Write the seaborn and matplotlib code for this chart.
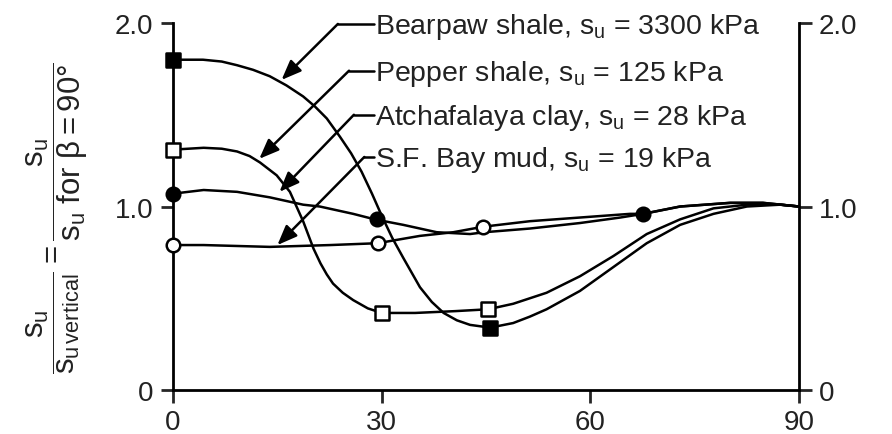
import numpy as np
import pandas as pd
import seaborn as sns
import matplotlib
matplotlib.use('Agg')
import matplotlib.pyplot as plt

# curves: beta (degrees) vs strength ratio
bearpaw_x = [0, 2.0, 4.3, 7.0, 9.2, 11.5, 13.9, 16.3, 18.7, 20.4, 22.1, 24.0, 25.6, 27.1, 28.6, 30.0,
             31.5, 33.1, 35.5, 37.2, 38.9, 40.8, 42.7, 45.6, 48.9, 51.3, 53.7, 58.5, 63.3, 68.1,
             72.9, 77.7, 82.5, 87.3, 90]
bearpaw_y = [1.80, 1.80, 1.80, 1.79, 1.77, 1.745, 1.71, 1.66, 1.60, 1.545, 1.48, 1.38, 1.29, 1.19, 1.07,
             0.95, 0.83, 0.72, 0.56, 0.48, 0.42, 0.38, 0.355, 0.34, 0.365, 0.40, 0.44, 0.54, 0.67, 0.80,
             0.90, 0.96, 1.00, 1.01, 1.00]

pepper_x = [0, 4.4, 7.0, 9.2, 11.0, 12.5, 14.9, 16.8, 18.7, 20.2, 21.2, 22.1, 23.0, 24.4, 25.9, 28.0,
            30.0, 34.8, 40.6, 45.3, 48.9, 51.3, 53.7, 58.5, 63.3, 68.1, 72.9, 77.7, 82.5, 87.3, 90]
pepper_y = [1.31, 1.32, 1.315, 1.30, 1.275, 1.24, 1.17, 1.08, 0.92, 0.77, 0.69, 0.63, 0.58, 0.53, 0.49,
            0.445, 0.42, 0.42, 0.43, 0.44, 0.47, 0.50, 0.53, 0.62, 0.73, 0.85, 0.93, 0.99, 1.01, 1.01, 1.00]

atcha_x = [0, 4.4, 9.2, 13.9, 18.7, 21.1, 25.9, 29.0, 33.1, 37.9, 42.7, 44.8, 51.3, 58.5, 64.3, 67.6,
           72.9, 80.1, 84.8, 90]
atcha_y = [1.07, 1.09, 1.08, 1.05, 1.01, 1.00, 0.96, 0.93, 0.90, 0.86, 0.85, 0.86, 0.88, 0.91, 0.94, 0.96,
           1.00, 1.02, 1.02, 1.00]

sfbay_x = [0, 4.4, 13.9, 22.6, 29.4, 35.5, 40.3, 44.6, 51.3, 58.5, 65.7, 67.6, 72.9, 80.1, 84.8, 90]
sfbay_y = [0.79, 0.79, 0.78, 0.79, 0.80, 0.84, 0.86, 0.89, 0.92, 0.94, 0.96, 0.96, 1.00, 1.02, 1.02, 1.00]

# measured points (markers)
bearpaw_pts_x = [0, 45.6]
bearpaw_pts_y = [1.80, 0.34]
pepper_pts_x = [0, 30.0, 45.3]
pepper_pts_y = [1.31, 0.42, 0.44]
atcha_pts_x = [0, 29.3, 67.6]
atcha_pts_y = [1.07, 0.93, 0.96]
sfbay_pts_x = [0, 29.4, 44.6]
sfbay_pts_y = [0.79, 0.80, 0.89]

labels = ['Bearpaw shale, $s_u$ = 3300 kPa',
          'Pepper shale, $s_u$ = 125 kPa',
          'Atchafalaya clay, $s_u$ = 28 kPa',
          'S.F. Bay mud, $s_u$ = 19 kPa']

sns.set_style('ticks')
plt.rcParams['font.family'] = ['Liberation Sans', 'DejaVu Sans']
plt.rcParams['mathtext.fontset'] = 'custom'
plt.rcParams['mathtext.rm'] = 'Liberation Sans'
plt.rcParams['mathtext.it'] = 'Liberation Sans'
plt.rcParams['mathtext.sf'] = 'Liberation Sans'
plt.rcParams['mathtext.bf'] = 'Liberation Sans:bold'
plt.rcParams['text.color'] = '#222222'

fig = plt.figure(figsize=(8.92, 4.35), dpi=100)
ax = fig.add_axes([0.194, 0.1011, 0.7018, 0.8437])

curves = [(bearpaw_x, bearpaw_y), (pepper_x, pepper_y), (atcha_x, atcha_y), (sfbay_x, sfbay_y)]
for cx, cy in curves:
    sns.lineplot(x=cx, y=cy, ax=ax, color='black', lw=1.8, sort=False, estimator=None,
                 clip_on=False, zorder=3)

pts = [(bearpaw_pts_x, bearpaw_pts_y, 's', 'black'),
       (pepper_pts_x, pepper_pts_y, 's', 'white'),
       (atcha_pts_x, atcha_pts_y, 'o', 'black'),
       (sfbay_pts_x, sfbay_pts_y, 'o', 'white')]
for px, py, mk, fc in pts:
    size = 115 if mk == 's' else 95
    sns.scatterplot(x=px, y=py, ax=ax, marker=mk, s=size, color=fc, edgecolor='black',
                    linewidth=1.8, clip_on=False, zorder=5, legend=False)

ax.set_xlim(0, 90)
ax.set_ylim(0, 2.0)
ax.set_xticks([0, 30, 60, 90])
ax.set_yticks([0, 1, 2])
ax.set_yticklabels(['0', '1.0', '2.0'])
ax.tick_params(axis='y', left=True, right=True, labelleft=True, labelright=True,
               direction='out', length=9, width=2, labelsize=20, pad=5, labelcolor='#222222')
ax.tick_params(axis='x', direction='out', length=9, width=2, labelsize=20, pad=5,
               labelcolor='#222222')
ax.spines['top'].set_visible(False)
for s in ['left', 'right', 'bottom']:
    ax.spines[s].set_visible(True)
    ax.spines[s].set_linewidth(2)
    ax.spines[s].set_color('black')

# leader lines with arrows
corners = [(23.7, 1.995), (25.3, 1.74), (26.0, 1.50), (27.5, 1.27)]
tips = [(15.6, 1.69), (12.4, 1.26), (15.3, 1.08), (15.0, 0.79)]
for (cx, cy), (tx, ty), lab in zip(corners, tips, labels):
    ax.plot([cx, 28.9], [cy, cy], color='black', lw=1.8, clip_on=False)
    ax.annotate('', xy=(tx, ty), xytext=(cx, cy),
                arrowprops=dict(arrowstyle='-|>,head_length=0.6,head_width=0.24',
                                color='black', lw=1.8, shrinkA=0, shrinkB=0,
                                mutation_scale=20),
                annotation_clip=False)
    ax.text(29.0, cy - 0.01, lab, fontsize=20.5, ha='left', va='center')

fig.text(57 / 892, 1 - 218 / 435,
         r'$\dfrac{s_u}{s_{u\,\mathrm{vertical}}} = \dfrac{s_u}{s_u\ \mathrm{for}\ \beta = 90°}$',
         rotation=90, ha='center', va='center', fontsize=22.5)

fig.savefig('out.png', dpi=100)
